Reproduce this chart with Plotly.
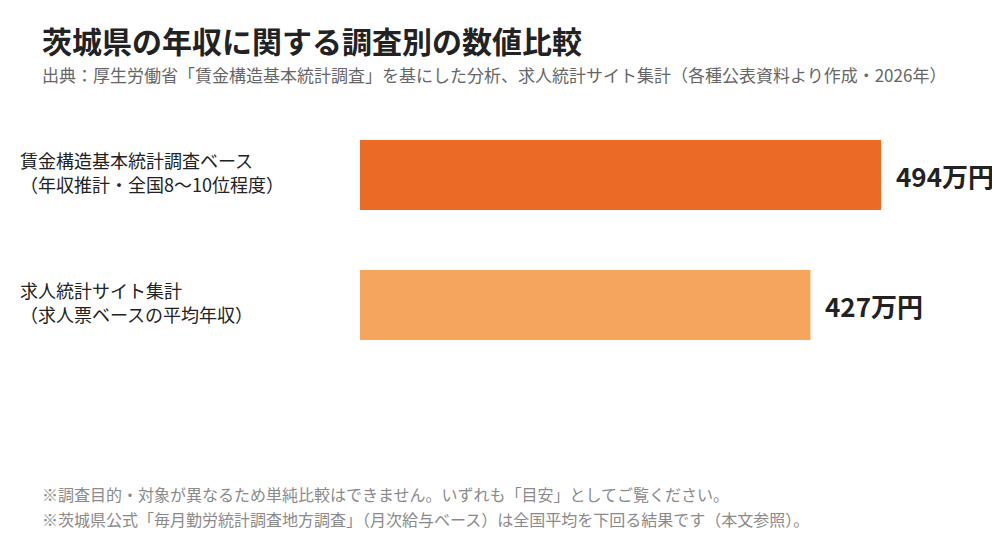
import plotly.graph_objects as go

categories = [["賃金構造基本統計調査ベース", "（年収推計・全国8〜10位程度）"],
              ["求人統計サイト集計", "（求人票ベースの平均年収）"]]
values = [494, 427]
value_labels = ["494万円", "427万円"]
colors = ["#EA6A26", "#F6A65C"]

title = "茨城県の年収に関する調査別の数値比較"
subtitle = "出典：厚生労働省「賃金構造基本統計調査」を基にした分析、求人統計サイト集計（各種公表資料より作成・2026年）"
notes = ["※調査目的・対象が異なるため単純比較はできません。いずれも「目安」としてご覧ください。",
         "※茨城県公式「毎月勤労統計調査地方調査」（月次給与ベース）は全国平均を下回る結果です（本文参照）。"]

FONT = "Noto Sans CJK JP"
OFF = 8  # page body offset
W, H = 1000, 560
ML, MT = 360 - OFF, 110 - OFF
PW, PH = 633, 260
MR = W - ML - PW
MB = H - MT - PH

def px(x):
    return (x - OFF - ML) / PW

def py(y):
    return (H - MB - (y - OFF)) / PH

ids = ["a", "b"]

fig = go.Figure(go.Bar(
    x=values, y=ids, orientation="h",
    marker=dict(color=colors, line=dict(width=0)),
    hoverinfo="skip",
))

ann = []
for cid, lines in zip(ids, categories):
    for j, (line, ys) in enumerate(zip(lines, [15, -9])):
        ann.append(dict(x=px(19), xref="paper", y=cid, yref="y", text=line,
                        xanchor="left", yanchor="middle", align="left", showarrow=False,
                        yshift=ys, borderpad=0,
                        font=dict(family=FONT, size=18, color="#222222")))
for cid, v, t in zip(ids, values, value_labels):
    ann.append(dict(x=v, xref="x", y=cid, yref="y", text=f"<b>{t}</b>",
                    xanchor="left", yanchor="middle", xshift=13, showarrow=False,
                    font=dict(family=FONT, size=26, color="#222222")))
ann.append(dict(x=px(40), xref="paper", y=py(40), yref="paper", text=f"<b>{title}</b>",
                xanchor="left", yanchor="middle", showarrow=False,
                font=dict(family=FONT, size=30, color="#222222")))
ann.append(dict(x=px(40), xref="paper", y=py(74), yref="paper", text=subtitle,
                xanchor="left", yanchor="middle", showarrow=False,
                font=dict(family=FONT, size=17, color="#666666")))
for i, n in enumerate(notes):
    ann.append(dict(x=px(40), xref="paper", y=py(494 + 25 * i), yref="paper", text=n,
                    xanchor="left", yanchor="middle", showarrow=False,
                    font=dict(family=FONT, size=16, color="#8a8a8a")))

fig.update_layout(
    width=W, height=H,
    margin=dict(l=ML, r=MR, t=MT, b=MB),
    paper_bgcolor="white", plot_bgcolor="white",
    bargap=60 / 130,
    showlegend=False,
    annotations=ann,
    xaxis=dict(range=[0, 600], visible=False, fixedrange=True),
    yaxis=dict(categoryorder="array", categoryarray=ids, autorange="reversed",
               showticklabels=False, showgrid=False, zeroline=False, fixedrange=True),
    font=dict(family=FONT),
)

fig.write_html("out.html", config={"displayModeBar": False})
